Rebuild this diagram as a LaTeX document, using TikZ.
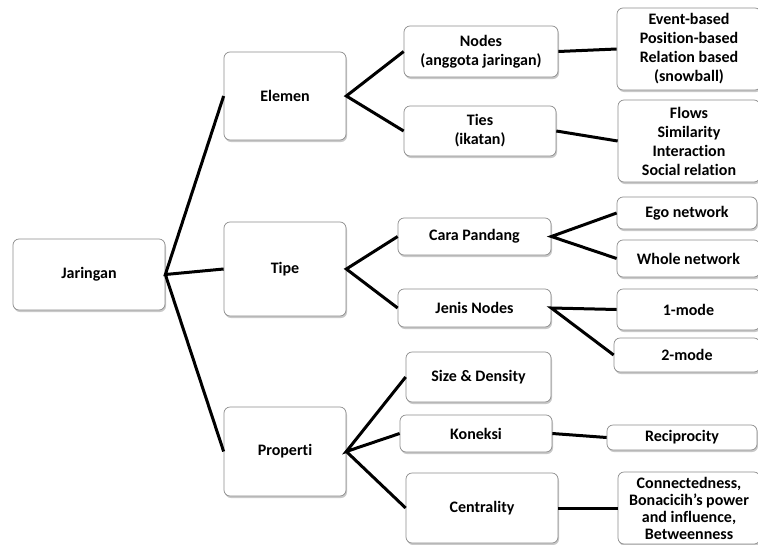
\documentclass[tikz,border=0pt]{standalone}
\usepackage{fontspec}
\setmainfont{Carlito}[Ligatures={NoCommon}]
\usetikzlibrary{shadows}
\begin{document}
\begin{tikzpicture}[x=1pt,y=-1pt,
  box/.style={draw=black!45, line width=0.7pt, fill=white, rounded corners=6pt,
    align=center, inner sep=1pt, font=\fontsize{16}{19}\selectfont\bfseries,
    drop shadow={shadow xshift=1pt, shadow yshift=-2pt, opacity=0.35, fill=black!60}},
  link/.style={line width=3pt, black}]
\useasboundingbox[fill=white] (0,0) rectangle (758,544);
\newcommand{\bx}[6]{\node[box, minimum width=#4, minimum height=#5] (#1) at (#2,#3) {#6};}
\bx{jar}{89}{274.5}{152}{71}{Jaringan}
\bx{elem}{285}{96}{122}{88}{Elemen}
\bx{tipe}{285}{269}{122}{94}{Tipe}
\bx{prop}{285}{451.5}{122}{89}{Properti}
\bx{nodes}{481}{51.5}{154}{51}{Nodes\\(anggota jaringan)}
\bx{ties}{480}{131}{152}{50}{Ties\\(ikatan)}
\bx{event}{689}{49}{144}{82}{Event-based\\Position-based\\Relation based\\(snowball)}
\bx{flows}{689}{141}{142}{82}{Flows\\Similarity\\Interaction\\Social relation}
\bx{cara}{474.5}{236.5}{153}{37}{Cara Pandang}
\bx{jenis}{474.5}{308}{153}{38}{Jenis Nodes}
\bx{ego}{687}{213}{140}{32}{Ego network}
\bx{whole}{688.5}{258.5}{143}{37}{Whole network}
\bx{one}{688.5}{309.5}{143}{41}{1-mode}
\bx{two}{687}{355}{146}{34}{2-mode}
\bx{size}{478.5}{377}{145}{50}{Size \& Density}
\bx{kon}{476}{433.5}{152}{37}{Koneksi}
\bx{recip}{682}{437.5}{150}{25}{Reciprocity}
\node[box, minimum width=142, minimum height=72, font=\fontsize{16}{17}\selectfont\bfseries] (conn) at (689,508) {Connectedness,\\Bonacicih’s power\\and influence,\\Betweenness};
\bx{cent}{482}{508}{152}{70}{Centrality}
\draw[link] (elem.west) -- (jar.east) -- (tipe.west);
\draw[link] (jar.east) -- (prop.west);
\draw[link] (nodes.west) -- (elem.east) -- (ties.west);
\draw[link] (nodes.east) -- (event.west);
\draw[link] (ties.east) -- (flows.west);
\draw[link] (cara.west) -- (tipe.east) -- (jenis.west);
\draw[link] (ego.west) -- (cara.east) -- (whole.west);
\draw[link] (one.west) -- (jenis.east) -- (two.west);
\draw[link] (size.west) -- (prop.east) -- (kon.west);
\draw[link] (prop.east) -- (cent.west);
\draw[link] (kon.east) -- (recip.west);
\draw[link] (cent.east) -- (conn.west);
\end{tikzpicture}
\end{document}
